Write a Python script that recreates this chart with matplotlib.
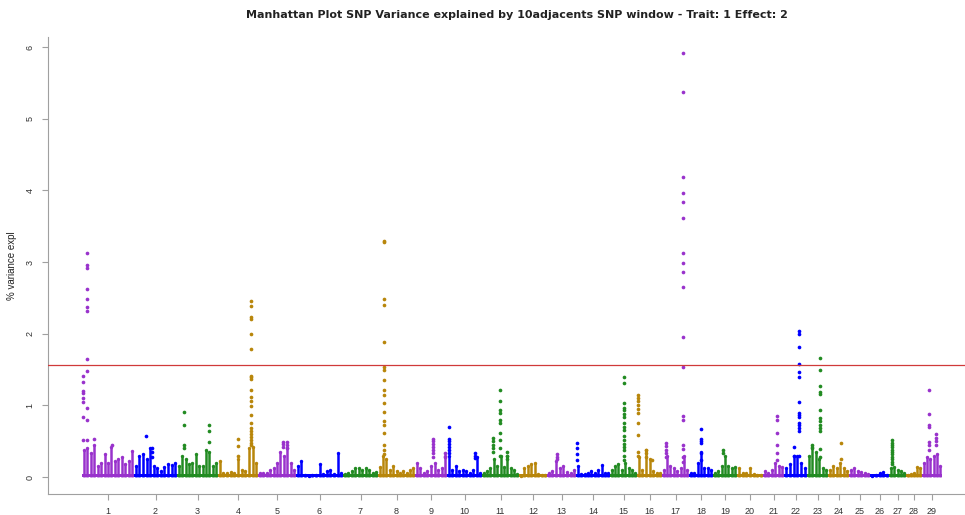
import numpy as np
import matplotlib
matplotlib.use("Agg")
import matplotlib.pyplot as plt

# Chromosome lengths (Mb-like units)
chrom_len = [156, 129, 123, 120, 114, 141, 105, 111, 96, 105, 111, 84, 87, 102, 81,
             75, 81, 72, 72, 78, 63, 69, 63, 63, 63, 57, 51, 48, 60]
chrom_labels = [str(i) for i in range(1, 30)]
palette = ["#9932CC", "#0000FF", "#228B22", "#B8860B"]

# background "grass" heights, evenly spread along each chromosome
grass = [
    [0.38, 0.40, 0.33, 0.45, 0.15, 0.20, 0.32, 0.20, 0.42, 0.22, 0.25, 0.28, 0.18, 0.22, 0.36],
    [0.15, 0.30, 0.32, 0.25, 0.40, 0.15, 0.12, 0.08, 0.14, 0.18, 0.17, 0.20],
    [0.15, 0.30, 0.25, 0.18, 0.20, 0.32, 0.15, 0.16, 0.38, 0.35, 0.15, 0.20],
    [0.22, 0.06, 0.06, 0.07, 0.06, 0.25, 0.10, 0.08, 0.40, 0.42, 0.20],
    [0.05, 0.05, 0.06, 0.10, 0.12, 0.20, 0.35, 0.30, 0.40, 0.20, 0.10],
    [0.15, 0.22, 0.03, 0.02, 0.03, 0.03, 0.18, 0.04, 0.08, 0.10, 0.04, 0.34, 0.05],
    [0.04, 0.05, 0.08, 0.12, 0.13, 0.10, 0.13, 0.10, 0.06, 0.07],
    [0.14, 0.30, 0.25, 0.10, 0.15, 0.08, 0.06, 0.08, 0.06, 0.10, 0.12],
    [0.20, 0.12, 0.06, 0.08, 0.15, 0.20, 0.10, 0.12, 0.30],
    [0.30, 0.10, 0.16, 0.08, 0.10, 0.08, 0.06, 0.10, 0.28, 0.05],
    [0.06, 0.08, 0.12, 0.25, 0.15, 0.30, 0.14, 0.30, 0.12, 0.10, 0.04],
    [0.02, 0.12, 0.15, 0.18, 0.20, 0.04, 0.03, 0.03],
    [0.06, 0.08, 0.22, 0.12, 0.16, 0.07, 0.05, 0.10],
    [0.15, 0.04, 0.04, 0.06, 0.08, 0.05, 0.10, 0.17, 0.05, 0.06],
    [0.10, 0.15, 0.18, 0.10, 0.20, 0.12, 0.10, 0.06],
    [0.28, 0.10, 0.38, 0.25, 0.08, 0.06, 0.05],
    [0.10, 0.30, 0.15, 0.12, 0.08, 0.12, 0.30, 0.10],
    [0.06, 0.05, 0.20, 0.35, 0.12, 0.12, 0.10],
    [0.06, 0.08, 0.15, 0.30, 0.15, 0.12, 0.14],
    [0.12, 0.05, 0.06, 0.12, 0.04, 0.03, 0.03],
    [0.08, 0.06, 0.10, 0.20, 0.16, 0.14],
    [0.12, 0.18, 0.30, 0.30, 0.20, 0.12],
    [0.30, 0.42, 0.35, 0.25, 0.12, 0.10],
    [0.10, 0.15, 0.12, 0.20, 0.12, 0.08],
    [0.10, 0.12, 0.08, 0.07, 0.05, 0.04],
    [0.02, 0.03, 0.06, 0.07, 0.03],
    [0.12, 0.14, 0.10, 0.08, 0.06],
    [0.03, 0.04, 0.05, 0.14, 0.12],
    [0.20, 0.28, 0.25, 0.30, 0.32, 0.15],
]
base_level = 0.04

# individual SNP windows standing out (chromosome, position in chromosome, values)
peak_chr = [1, 1, 1, 1, 2, 2, 3, 3, 4, 4, 5, 5, 8, 9, 9, 10, 10, 11, 11, 11,
            13, 14, 15, 16, 16, 16, 17, 17, 18, 19, 21, 22, 22, 23, 23, 24, 27, 29, 29]
peak_pos = [14, 2, 37, 89, 36, 55, 22, 95, 61, 100, 75, 87, 19, 55, 90, 7, 85, 34, 55, 75,
            29, 3, 41, 4, 27, 45, 12, 64, 36, 30, 41, 29, 44, 38, 15, 40, 10, 20, 41]
peak_vals = [
    [3.13, 2.96, 2.92, 2.62, 2.48, 2.37, 2.32, 1.65, 1.48, 0.97, 0.79, 0.51],
    [1.41, 1.33, 1.20, 1.17, 1.10, 1.04, 0.84, 0.51],
    [0.53],
    [0.45],
    [0.57],
    [0.41, 0.35, 0.28],
    [0.91, 0.73, 0.45, 0.41],
    [0.73, 0.64, 0.49],
    [0.53, 0.43, 0.30],
    [2.45, 2.38, 2.23, 2.20, 1.99, 1.79, 1.41, 1.40, 1.37, 1.21, 1.12, 1.06, 0.99,
     0.87, 0.76, 0.68, 0.64, 0.60, 0.56, 0.52, 0.48, 0.44],
    [0.49, 0.46, 0.42],
    [0.49, 0.45, 0.40],
    [3.30, 3.28, 2.49, 2.40, 1.88, 1.54, 1.50, 1.35, 1.21, 1.14, 1.03, 0.91, 0.78,
     0.73, 0.62, 0.44, 0.38, 0.32],
    [0.53, 0.50, 0.46, 0.42, 0.38, 0.33, 0.28],
    [0.33, 0.28],
    [0.70, 0.53, 0.50, 0.46, 0.42, 0.38, 0.34],
    [0.34, 0.30, 0.26],
    [0.54, 0.50, 0.45, 0.40, 0.35],
    [1.22, 1.06, 0.93, 0.89, 0.80, 0.75, 0.62, 0.52, 0.40, 0.30],
    [0.35, 0.30, 0.25],
    [0.32, 0.28, 0.25],
    [0.48, 0.40, 0.32, 0.24],
    [1.40, 1.31, 1.03, 0.97, 0.93, 0.88, 0.84, 0.75, 0.70, 0.66, 0.57, 0.52, 0.46,
     0.42, 0.38, 0.30, 0.24],
    [1.14, 1.10, 1.06, 1.00, 0.95, 0.89, 0.75, 0.59, 0.35, 0.30],
    [0.38, 0.33, 0.28],
    [0.24],
    [0.48, 0.43, 0.38, 0.33, 0.28],
    [5.91, 5.37, 4.18, 3.97, 3.84, 3.61, 3.12, 2.99, 2.86, 2.65, 1.96, 1.54, 0.85,
     0.79, 0.45, 0.39, 0.28, 0.21],
    [0.67, 0.53, 0.50, 0.48, 0.34, 0.24],
    [0.38, 0.33],
    [0.85, 0.79, 0.61, 0.45, 0.33, 0.24],
    [0.42, 0.30],
    [2.04, 1.99, 1.81, 1.58, 1.47, 1.39, 1.05, 0.90, 0.87, 0.84, 0.76, 0.72, 0.68,
     0.64, 0.30],
    [1.66, 1.49, 1.27, 1.19, 1.16, 0.93, 0.82, 0.78, 0.73, 0.69, 0.64, 0.39, 0.28],
    [0.45, 0.40],
    [0.48, 0.25],
    [0.52, 0.48, 0.45, 0.42, 0.38, 0.35, 0.32, 0.28, 0.25, 0.21, 0.18],
    [1.21, 0.88, 0.73, 0.70, 0.49, 0.45, 0.38],
    [0.60, 0.55, 0.50, 0.45],
]
threshold = 1.56

title = "Manhattan Plot SNP Variance explained by 10adjacents SNP window - Trait: 1 Effect: 2"

starts = np.concatenate([[0], np.cumsum(chrom_len)[:-1]])
centers = starts + np.array(chrom_len) / 2

fig = plt.figure(figsize=(9.65, 5.15), dpi=100)
ax = fig.add_axes([48 / 965, 1 - 494 / 515, 928 / 965, 457 / 515])

for c, heights in enumerate(grass):
    col = palette[c % 4]
    n = len(heights)
    xs = starts[c] + (np.arange(n) + 0.5) * chrom_len[c] / n
    ax.bar(starts[c], base_level, width=chrom_len[c], align="edge", color=col, linewidth=0)
    ax.vlines(xs, 0, heights, colors=col, linewidth=1.8)
    ax.scatter(xs, heights, s=6, color=col, linewidths=0)

for ch, pos, vals in zip(peak_chr, peak_pos, peak_vals):
    col = palette[(ch - 1) % 4]
    xs = np.full(len(vals), starts[ch - 1] + pos)
    ax.scatter(xs, vals, s=7, color=col, linewidths=0, zorder=3)

ax.axhline(threshold, color="#D03A3A", linewidth=0.9, zorder=4)

ax.set_xlim(-102, 2682)
ax.set_ylim(-0.237, 6.14)

for side in ["top", "right"]:
    ax.spines[side].set_visible(False)
for side in ["left", "bottom"]:
    ax.spines[side].set_color("#a0a0a0")
    ax.spines[side].set_linewidth(0.8)

tick_font = {"family": ["Liberation Sans", "DejaVu Sans"], "size": 6.5}
ax.set_xticks(centers)
ax.set_xticklabels(chrom_labels, fontdict=tick_font, color="#333333")
ax.set_yticks(range(7))
ax.set_yticklabels([str(i) for i in range(7)], fontdict=tick_font, color="#333333",
                   rotation=90, va="center")
ax.tick_params(axis="both", direction="out", length=4.5, width=0.8, color="#a0a0a0")
ax.tick_params(axis="x", pad=5)
ax.tick_params(axis="y", pad=5)

ax.set_ylabel("% variance expl", fontsize=7, family=["Liberation Sans", "DejaVu Sans"],
              color="#222222", labelpad=6)
fig.text(517 / 965, 1 - 15 / 515, title, ha="center", va="center", fontsize=8,
         fontweight="bold", family=["Liberation Sans Narrow", "DejaVu Sans"], color="#222222")

fig.savefig("out.png", dpi=100)
